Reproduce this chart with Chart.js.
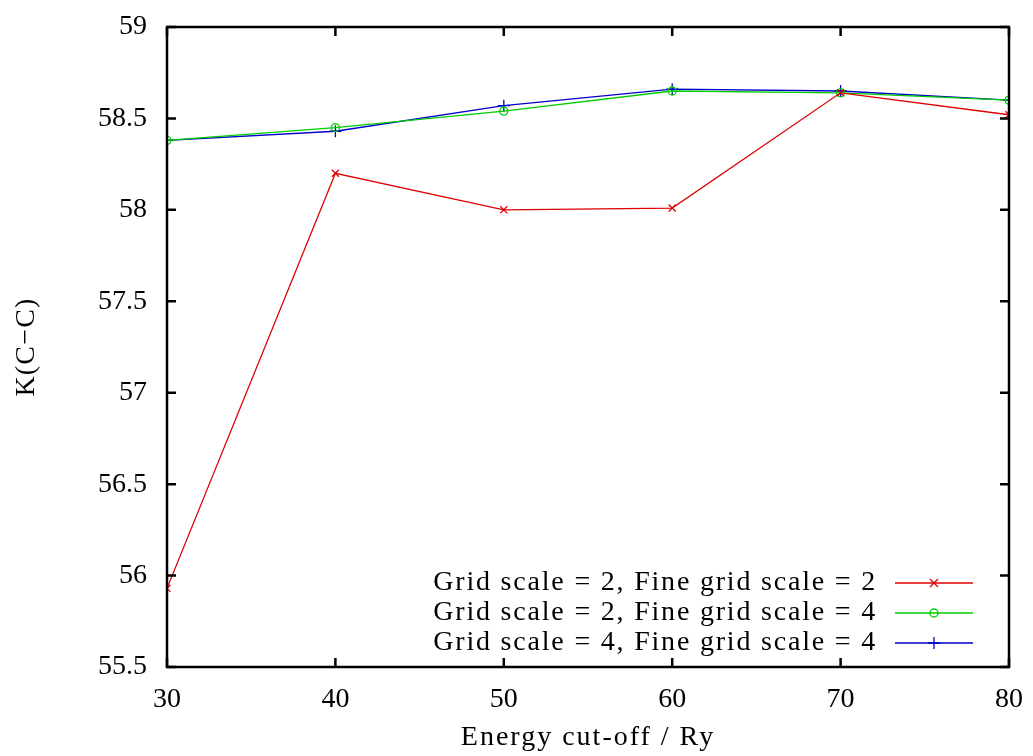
<!DOCTYPE html>
<html>
<head>
<meta charset="utf-8">
<script src="https://cdn.jsdelivr.net/npm/chart.js@4.4.1/dist/chart.umd.min.js"></script>
<style>
  html, body { margin: 0; padding: 0; background: #ffffff; }
  #wrap { width: 1033px; height: 756px; }
</style>
</head>
<body>
<div id="wrap"><canvas id="c" width="1033" height="756"></canvas></div>
<script>
// ---- data ----
const cutoffs = [30, 40, 50, 60, 70, 80];
const seriesLabels = [
  'Grid scale = 2, Fine grid scale = 2',
  'Grid scale = 2, Fine grid scale = 4',
  'Grid scale = 4, Fine grid scale = 4'
];
const kRed   = [55.93, 58.20, 58.00, 58.01, 58.64, 58.52];
const kGreen = [58.38, 58.45, 58.54, 58.65, 58.64, 58.60];
const kBlue  = [58.38, 58.43, 58.57, 58.66, 58.65, 58.60];
const yTickValues = [55.5, 56, 56.5, 57, 57.5, 58, 58.5, 59];
const xTickValues = [30, 40, 50, 60, 70, 80];
const xTitle = 'Energy cut-off / Ry';
const yTitle = 'K(C\u2212C)';

const FONT = '"Liberation Serif", "DejaVu Serif", serif';
const FS = 28;
const colors = ['#dd0000', '#00cc00', '#0000cc'];
const styles = ['crossRot', 'circle', 'cross'];
const radii = [5, 4, 6];

function pts(arr) { return cutoffs.map((x, i) => ({x: x, y: arr[i]})); }
const allSeries = [kRed, kGreen, kBlue];

const datasets = allSeries.map((arr, i) => ({
  label: seriesLabels[i],
  data: pts(arr),
  borderColor: colors[i],
  backgroundColor: 'rgba(0,0,0,0)',
  pointBorderColor: colors[i],
  pointBackgroundColor: 'rgba(0,0,0,0)',
  pointStyle: styles[i],
  pointRadius: radii[i],
  pointBorderWidth: 1.3,
  borderWidth: 1.3,
  tension: 0,
  fill: false
}));

function drawMarker(ctx, style, x, y, r, color) {
  ctx.save();
  ctx.strokeStyle = color;
  ctx.lineWidth = 1.3;
  ctx.beginPath();
  if (style === 'crossRot') {
    ctx.moveTo(x - r * 0.8, y - r * 0.8); ctx.lineTo(x + r * 0.8, y + r * 0.8);
    ctx.moveTo(x - r * 0.8, y + r * 0.8); ctx.lineTo(x + r * 0.8, y - r * 0.8);
  } else if (style === 'circle') {
    ctx.arc(x, y, r, 0, Math.PI * 2);
  } else {
    ctx.moveTo(x - r, y); ctx.lineTo(x + r, y);
    ctx.moveTo(x, y - r); ctx.lineTo(x, y + r);
  }
  ctx.stroke();
  ctx.restore();
}

const framePlugin = {
  id: 'frame',
  afterDatasetsDraw(chart) {
    const ctx = chart.ctx;
    const a = chart.chartArea;
    const xs = chart.scales.x, ys = chart.scales.y;
    ctx.save();
    ctx.strokeStyle = '#000';
    ctx.lineWidth = 2.5;
    ctx.strokeRect(a.left, a.top, a.right - a.left, a.bottom - a.top);
    const tl = 9;
    ctx.beginPath();
    xTickValues.forEach(v => {
      const px = xs.getPixelForValue(v);
      ctx.moveTo(px, a.bottom); ctx.lineTo(px, a.bottom - tl);
      ctx.moveTo(px, a.top); ctx.lineTo(px, a.top + tl);
    });
    yTickValues.forEach(v => {
      const py = ys.getPixelForValue(v);
      ctx.moveTo(a.left, py); ctx.lineTo(a.left + tl, py);
      ctx.moveTo(a.right, py); ctx.lineTo(a.right - tl, py);
    });
    ctx.stroke();

    // axis titles
    ctx.font = FS + 'px ' + FONT;
    ctx.fillStyle = '#000';
    ctx.letterSpacing = '2px';
    ctx.textAlign = 'center';
    ctx.textBaseline = 'middle';
    ctx.fillText(xTitle, (a.left + a.right) / 2, 738);
    ctx.letterSpacing = '1.2px';
    ctx.save();
    ctx.translate(27, (a.top + a.bottom) / 2);
    ctx.rotate(-Math.PI / 2);
    ctx.fillText(yTitle, 0, 0);
    ctx.restore();

    // legend
    ctx.letterSpacing = '1.8px';
    ctx.textAlign = 'right';
    const textRight = 877, lx0 = 895, lx1 = 973;
    const rowY = [583, 613, 643];
    chart.data.datasets.forEach((ds, i) => {
      const y = rowY[i];
      ctx.fillText(ds.label, textRight, y);
      ctx.strokeStyle = ds.borderColor;
      ctx.lineWidth = 1.3;
      ctx.beginPath();
      ctx.moveTo(lx0, y); ctx.lineTo(lx1, y);
      ctx.stroke();
      drawMarker(ctx, ds.pointStyle, (lx0 + lx1) / 2, y, ds.pointRadius, ds.borderColor);
    });
    ctx.letterSpacing = '0px';
    ctx.restore();
  }
};

Chart.defaults.font.family = FONT;
Chart.defaults.font.size = FS;
Chart.defaults.color = '#000';

new Chart(document.getElementById('c'), {
  type: 'line',
  data: { datasets: datasets },
  options: {
    responsive: false,
    animation: false,
    devicePixelRatio: 1,
    layout: { padding: { left: 0, right: 24, top: 27, bottom: 0 } },
    plugins: { legend: { display: false }, tooltip: { enabled: false } },
    elements: { point: { hoverRadius: 5 } },
    scales: {
      x: {
        type: 'linear',
        min: 30, max: 80,
        afterBuildTicks: s => { s.ticks = xTickValues.map(v => ({value: v})); },
        afterFit: s => { s.height = 89; s.paddingLeft = 0; s.paddingRight = 0; },
        grid: { display: false, drawTicks: false },
        border: { display: false },
        ticks: { padding: 16, font: { size: FS, family: FONT }, color: '#000', callback: v => String(v) },
        title: { display: false }
      },
      y: {
        type: 'linear',
        min: 55.5, max: 59,
        afterBuildTicks: s => { s.ticks = yTickValues.map(v => ({value: v})); },
        afterFit: s => { s.width = 167; s.paddingTop = 0; s.paddingBottom = 0; },
        grid: { display: false, drawTicks: false },
        border: { display: false },
        ticks: { padding: 20, font: { size: FS, family: FONT }, color: '#000', callback: v => String(v) },
        title: { display: false }
      }
    }
  },
  plugins: [framePlugin]
});
</script>
</body>
</html>
